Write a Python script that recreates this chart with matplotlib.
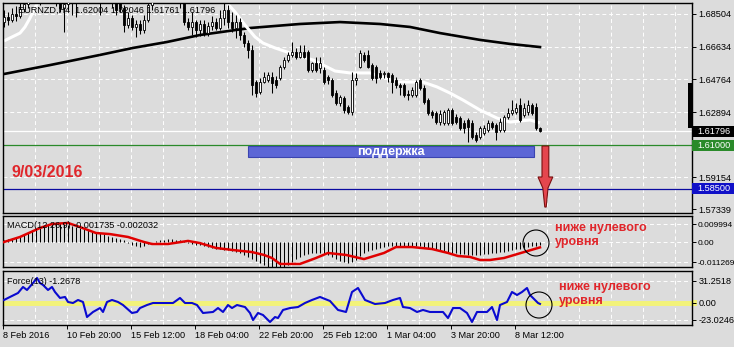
import matplotlib
matplotlib.use("Agg")
import matplotlib.pyplot as plt
from matplotlib.patches import Rectangle, Polygon, Ellipse
from matplotlib.transforms import blended_transform_factory
import numpy as np

plt.rcParams['font.family'] = ['Liberation Sans', 'DejaVu Sans']

W, H = 734, 347
BG = "#DCDCDC"

# ---------------- data ----------------
symbol = "EURNZD,H4"
last_ohlc = ["1.62004", "1.62046", "1.61761", "1.61796"]

opens = [1.6804, 1.6833, 1.6816, 1.6850, 1.6839, 1.6879, 1.6908, 1.6965, 1.6948, 1.6988,
         1.6959, 1.6999, 1.6976, 1.6948, 1.6936, 1.6885, 1.6908, 1.6953, 1.6919, 1.6965,
         1.7016, 1.7045, 1.7016, 1.7073, 1.7033, 1.6959, 1.6999, 1.6976, 1.6919, 1.6930,
         1.6885, 1.6787, 1.6827, 1.6776, 1.6793, 1.6759, 1.6816, 1.6902, 1.6976, 1.6999,
         1.7045, 1.7016, 1.7056, 1.7033, 1.6988, 1.6942, 1.6804, 1.6776, 1.6804, 1.6759,
         1.6793, 1.6741, 1.6781, 1.6804, 1.6770, 1.6827, 1.6873, 1.6804, 1.6770, 1.6804,
         1.6730, 1.6684, 1.6644, 1.6461, 1.6404, 1.6461, 1.6473, 1.6490, 1.6473, 1.6484,
         1.6547, 1.6587, 1.6616, 1.6633, 1.6604, 1.6633, 1.6633, 1.6530, 1.6570, 1.6541,
         1.6530, 1.6490, 1.6473, 1.6398, 1.6341, 1.6370, 1.6318, 1.6290, 1.6473, 1.6547,
         1.6616, 1.6616, 1.6558, 1.6547, 1.6513, 1.6507, 1.6513, 1.6501, 1.6473, 1.6444,
         1.6444, 1.6393, 1.6387, 1.6387, 1.6473, 1.6427, 1.6358, 1.6290, 1.6284, 1.6232,
         1.6227, 1.6227, 1.6301, 1.6261, 1.6255, 1.6227, 1.6244, 1.6227, 1.6158, 1.6146,
         1.6169, 1.6187, 1.6227, 1.6215, 1.6187, 1.6187, 1.6261, 1.6284, 1.6290, 1.6330,
         1.6272, 1.6290, 1.6330, 1.6318, 1.6200]
highs = [1.6873, 1.6862, 1.6885, 1.6896, 1.6919, 1.6959, 1.6999, 1.7016, 1.7045, 1.7033,
         1.7056, 1.7073, 1.7016, 1.6988, 1.6953, 1.6942, 1.6976, 1.6988, 1.6988, 1.7073,
         1.7102, 1.7102, 1.7113, 1.7131, 1.7073, 1.7045, 1.7056, 1.6999, 1.6953, 1.6976,
         1.6902, 1.6862, 1.6845, 1.6816, 1.6816, 1.6845, 1.6959, 1.7016, 1.7073, 1.7102,
         1.7113, 1.7131, 1.7102, 1.7073, 1.7033, 1.6976, 1.6827, 1.6862, 1.6816, 1.6816,
         1.6816, 1.6804, 1.6839, 1.6827, 1.6873, 1.6919, 1.6902, 1.6862, 1.6845, 1.6827,
         1.6747, 1.6702, 1.6673, 1.6473, 1.6484, 1.6518, 1.6518, 1.6518, 1.6496, 1.6558,
         1.6604, 1.6633, 1.6690, 1.6656, 1.6673, 1.6673, 1.6644, 1.6575, 1.6604, 1.6604,
         1.6547, 1.6501, 1.6484, 1.6416, 1.6387, 1.6381, 1.6330, 1.6518, 1.6513, 1.6644,
         1.6633, 1.6644, 1.6570, 1.6558, 1.6530, 1.6524, 1.6518, 1.6513, 1.6490, 1.6455,
         1.6455, 1.6416, 1.6433, 1.6473, 1.6484, 1.6444, 1.6370, 1.6301, 1.6295, 1.6301,
         1.6301, 1.6312, 1.6312, 1.6278, 1.6267, 1.6244, 1.6255, 1.6244, 1.6175, 1.6210,
         1.6215, 1.6244, 1.6238, 1.6227, 1.6255, 1.6272, 1.6312, 1.6358, 1.6341, 1.6370,
         1.6341, 1.6358, 1.6341, 1.6341, 1.6205]
lows = [1.6776, 1.6787, 1.6804, 1.6810, 1.6827, 1.6862, 1.6885, 1.6919, 1.6913, 1.6902,
        1.6930, 1.6942, 1.6919, 1.6896, 1.6862, 1.6747, 1.6873, 1.6845, 1.6833, 1.6942,
        1.6988, 1.6976, 1.6988, 1.6999, 1.6845, 1.6913, 1.6942, 1.6885, 1.6845, 1.6862,
        1.6747, 1.6770, 1.6759, 1.6719, 1.6736, 1.6741, 1.6804, 1.6873, 1.6942, 1.6959,
        1.6976, 1.6988, 1.6959, 1.6930, 1.6885, 1.6787, 1.6759, 1.6730, 1.6719, 1.6724,
        1.6724, 1.6724, 1.6759, 1.6759, 1.6759, 1.6787, 1.6770, 1.6747, 1.6713, 1.6702,
        1.6661, 1.6598, 1.6387, 1.6375, 1.6393, 1.6455, 1.6461, 1.6398, 1.6427, 1.6473,
        1.6536, 1.6575, 1.6604, 1.6593, 1.6598, 1.6598, 1.6518, 1.6518, 1.6518, 1.6513,
        1.6450, 1.6450, 1.6375, 1.6330, 1.6324, 1.6284, 1.6278, 1.6272, 1.6444, 1.6541,
        1.6575, 1.6541, 1.6473, 1.6455, 1.6479, 1.6484, 1.6461, 1.6398, 1.6427, 1.6387,
        1.6375, 1.6358, 1.6375, 1.6375, 1.6416, 1.6335, 1.6272, 1.6255, 1.6221, 1.6215,
        1.6215, 1.6215, 1.6215, 1.6221, 1.6187, 1.6169, 1.6118, 1.6135, 1.6118, 1.6135,
        1.6158, 1.6175, 1.6192, 1.6129, 1.6175, 1.6175, 1.6250, 1.6272, 1.6278, 1.6232,
        1.6261, 1.6272, 1.6272, 1.6187, 1.6176]
closes = [1.6833, 1.6816, 1.6850, 1.6839, 1.6879, 1.6908, 1.6965, 1.6948, 1.6988, 1.6959,
          1.6999, 1.6976, 1.6948, 1.6936, 1.6885, 1.6908, 1.6953, 1.6919, 1.6965, 1.7016,
          1.7045, 1.7016, 1.7073, 1.7033, 1.6959, 1.6999, 1.6976, 1.6919, 1.6873, 1.6885,
          1.6787, 1.6827, 1.6776, 1.6793, 1.6759, 1.6816, 1.6902, 1.6976, 1.6999, 1.7045,
          1.7016, 1.7056, 1.7033, 1.6988, 1.6942, 1.6804, 1.6776, 1.6804, 1.6759, 1.6793,
          1.6741, 1.6781, 1.6804, 1.6770, 1.6827, 1.6873, 1.6804, 1.6770, 1.6804, 1.6730,
          1.6684, 1.6644, 1.6444, 1.6398, 1.6461, 1.6490, 1.6501, 1.6455, 1.6444, 1.6547,
          1.6587, 1.6616, 1.6633, 1.6604, 1.6633, 1.6604, 1.6530, 1.6570, 1.6530, 1.6570,
          1.6461, 1.6473, 1.6387, 1.6341, 1.6375, 1.6301, 1.6290, 1.6473, 1.6484, 1.6627,
          1.6587, 1.6547, 1.6484, 1.6484, 1.6490, 1.6513, 1.6490, 1.6461, 1.6444, 1.6433,
          1.6387, 1.6387, 1.6416, 1.6461, 1.6427, 1.6347, 1.6284, 1.6272, 1.6232, 1.6278,
          1.6290, 1.6301, 1.6227, 1.6232, 1.6198, 1.6198, 1.6204, 1.6146, 1.6129, 1.6198,
          1.6198, 1.6227, 1.6204, 1.6175, 1.6232, 1.6261, 1.6284, 1.6301, 1.6312, 1.6244,
          1.6312, 1.6330, 1.6284, 1.6198, 1.6180]

white_ma_x = [0, 1.5, 4, 5.25, 6.5, 7.75, 9, 10.5, 15, 25, 35, 45, 52, 55.5, 57.75, 60.25,
              62.75, 64.75, 67.75, 71.5, 77.25, 80.25, 82.75, 86.5, 91.5, 95.25, 98.25,
              101.5, 104.75, 108.25, 111.5, 114.75, 119, 123.25, 126.5, 129, 131.5, 134]
white_ma = [1.6696, 1.6713, 1.6741, 1.6776, 1.6827, 1.6885, 1.6942, 1.6999, 1.7050, 1.7080,
            1.7050, 1.7020, 1.6960, 1.6919, 1.6862, 1.6787, 1.6719, 1.6684, 1.6656, 1.6627,
            1.6587, 1.6553, 1.6524, 1.6513, 1.6513, 1.6484, 1.6461, 1.6461, 1.6461, 1.6433,
            1.6398, 1.6358, 1.6301, 1.6255, 1.6232, 1.6238, 1.6244, 1.6227]

black_ma_x = [0, 11.5, 24, 32.25, 40.75, 49, 61.5, 74, 84, 94, 101.5, 109, 119, 126.5, 134]
black_ma = [1.6507, 1.6558, 1.6616, 1.6656, 1.6690, 1.6730, 1.6770, 1.6793, 1.6804, 1.6793,
            1.6776, 1.6741, 1.6702, 1.6679, 1.6661]

macd_hist = [0.0011, 0.0017, 0.0022, 0.0028, 0.0033, 0.0044, 0.0056, 0.0067, 0.0072, 0.0078,
             0.0089, 0.0095, 0.0100, 0.0106, 0.0106, 0.0100, 0.0095, 0.0089, 0.0083, 0.0078,
             0.0072, 0.0067, 0.0061, 0.0056, 0.0050, 0.0044, 0.0033, 0.0028, 0.0022, 0.0017,
             0.0011, -0.0006, -0.0017, -0.0022, -0.0028, -0.0022, -0.0011, 0.0000, 0.0006, 0.0011,
             0.0011, 0.0017, 0.0017, 0.0011, 0.0011, 0.0006, -0.0006, -0.0011, -0.0017, -0.0017,
             -0.0022, -0.0028, -0.0033, -0.0039, -0.0039, -0.0044, -0.0044, -0.0050, -0.0056, -0.0061,
             -0.0072, -0.0083, -0.0095, -0.0106, -0.0117, -0.0128, -0.0139, -0.0145, -0.0150, -0.0145,
             -0.0139, -0.0128, -0.0111, -0.0095, -0.0083, -0.0072, -0.0067, -0.0061, -0.0061, -0.0061,
             -0.0067, -0.0072, -0.0083, -0.0095, -0.0106, -0.0111, -0.0117, -0.0111, -0.0100, -0.0078,
             -0.0061, -0.0050, -0.0044, -0.0039, -0.0033, -0.0028, -0.0022, -0.0022, -0.0022, -0.0022,
             -0.0028, -0.0028, -0.0028, -0.0022, -0.0022, -0.0028, -0.0033, -0.0039, -0.0044, -0.0050,
             -0.0056, -0.0056, -0.0061, -0.0061, -0.0067, -0.0067, -0.0072, -0.0072, -0.0072, -0.0072,
             -0.0067, -0.0067, -0.0061, -0.0061, -0.0056, -0.0056, -0.0050, -0.0044, -0.0039, -0.0039,
             -0.0033, -0.0028, -0.0022, -0.0022, -0.0017]

signal_x = [0, 4, 9, 12, 16, 19, 23, 26.5, 31, 35, 37, 41, 46, 49, 53, 57, 62, 65, 67, 69,
            72, 74, 78, 81, 85.5, 90, 95, 98, 102, 107, 111, 113.5, 116.5, 119, 121.5, 125,
            130, 134]
signal = [0.0000, 0.0028, 0.0078, 0.0100, 0.0106, 0.0083, 0.0050, 0.0044, 0.0028, 0.0000,
          -0.0011, -0.0011, 0.0006, -0.0006, -0.0033, -0.0044, -0.0056, -0.0072, -0.0089, -0.0122,
          -0.0122, -0.0122, -0.0089, -0.0061, -0.0072, -0.0095, -0.0061, -0.0028, -0.0028, -0.0039,
          -0.0061, -0.0078, -0.0083, -0.0100, -0.0100, -0.0089, -0.0056, -0.0030]

force_x = [0, 1.5, 3.5, 4.75, 5.75, 7.25, 8.25, 9, 9.75, 11, 12, 12.75, 14, 15.25, 16, 17.25,
           18.5, 19.75, 20.75, 22.25, 24, 24.75, 25.75, 27, 28.5, 29.75, 32, 33.25, 34, 35.75,
           37.25, 39.75, 42.25, 44, 45.25, 47, 48.25, 49.75, 52.25, 53.5, 54.75, 56, 57, 58.25,
           60.25, 61.5, 62.25, 63.5, 64.75, 66.5, 67.75, 68.5, 69.75, 71.5, 73.5, 75.25, 77, 79,
           81.5, 83.5, 85.5, 87, 88.5, 90.25, 92.75, 95.25, 97.25, 99, 99.75, 101.5, 103.25,
           104.75, 106.5, 109.75, 111, 112.25, 114, 115.75, 117, 118.25, 120.75, 122, 123.25,
           124, 125.75, 127, 128.25, 129.5, 130.75, 131.5, 132.25, 133.5, 134]
force = [4.2, 8.4, 13.9, 22.3, 18.1, 27.8, 34.8, 27.8, 25.1, 18.1, 22.3, 15.3, 7.0, 8.4, 1.4,
         0.0, 4.2, 1.4, -19.5, -12.5, -7.0, -12.5, 1.4, 4.2, 1.4, -2.8, -13.9, -12.5, -7.0, -2.8,
         0.0, 0.0, 0.0, 7.0, 0.0, 0.0, -2.8, -13.9, -12.5, -7.0, -12.5, -2.8, -7.0, -2.8, -5.6,
         -13.9, -23.7, -13.9, -16.7, -26.4, -19.5, -20.9, -9.7, -7.0, -5.6, 0.0, 4.2, 8.4, 2.8,
         -9.7, -12.5, 15.3, 20.9, 4.2, -1.4, 0.0, 4.2, 7.0, -5.6, -7.0, -12.5, -9.7, -12.5,
         -12.5, -20.9, -7.0, -7.0, -13.9, -26.4, -12.5, -12.5, -5.6, -23.7, -2.8, 1.4, 15.3,
         11.1, 15.3, 20.9, 11.1, 7.0, 0.0, -1.27]

price_ticks = [1.68504, 1.66634, 1.64764, 1.62894, 1.59154, 1.57339]
price_grid = [1.68504, 1.66634, 1.64764, 1.62894, 1.61024, 1.59154]
macd_ticks = [0.009994, 0.0, -0.011269]
macd_tick_labels = ["0.009994", "0.00", "-0.011269"]
force_ticks = [31.2518, 0.0, -23.0246]
force_tick_labels = ["31.2518", "0.00", "-23.0246"]
date_labels = ["8 Feb 2016", "10 Feb 20:00", "15 Feb 12:00", "18 Feb 04:00",
               "22 Feb 20:00", "25 Feb 12:00", "1 Mar 04:00", "3 Mar 20:00", "8 Mar 12:00"]
bid_price = 1.61796
support_level = 1.61000
target_level = 1.58500
support_zone = (61.0, 132.5, 1.6032, 1.6095)   # x from, x to, price low, price high
bar_marker = (1.6198, 1.6455)                   # dark marker at right edge: price low, high
macd_text = "MACD(12,26,9) -0.001735 -0.002032"
force_text = "Force(13) -1.2678"
date_text = "9/03/2016"
zone_text = "поддержка"
note_text = "ниже нулевого\nуровня"

# ---------------- figure ----------------
fig = plt.figure(figsize=(W / 100, H / 100), dpi=100, facecolor=BG)


def px_axes(l, t, r, b):
    return fig.add_axes([l / W, 1 - b / H, (r - l) / W, (b - t) / H])


ax_main = px_axes(3, 3, 692, 213)
ax_macd = px_axes(3, 216, 692, 267)
ax_force = px_axes(3, 271, 692, 325)

XMIN, XMAX = -0.25, 172.0
DASH = (0, (4, 3))
for ax in (ax_main, ax_macd, ax_force):
    ax.set_facecolor(BG)
    ax.set_xlim(XMIN, XMAX)
    for s in ax.spines.values():
        s.set_color("black")
        s.set_linewidth(1.0)
    ax.yaxis.tick_right()
    ax.tick_params(axis='y', direction='out', length=3, width=0.7, pad=1.5,
                   labelsize=6.6, colors='black')
    ax.tick_params(axis='x', bottom=False, labelbottom=False)
    for k in range(1, 22):
        ax.axvline(XMIN + 8 * k, color='white', lw=0.7, ls=DASH, zorder=0.5)

# ---- main panel ----
ax_main.set_ylim(1.5712, 1.6913)
ax_main.set_yticks(price_ticks)
ax_main.set_yticklabels([f"{p:.5f}" for p in price_ticks])
for p in price_grid:
    ax_main.axhline(p, color='white', lw=0.7, ls=DASH, zorder=0.5)

ax_main.plot(black_ma_x, black_ma, color='black', lw=1.9, zorder=2)
ax_main.plot(white_ma_x, white_ma, color='white', lw=2.2, zorder=2, solid_capstyle='butt')

idx = np.arange(len(opens))
o = np.array(opens); c = np.array(closes)
hi = np.array(highs); lo = np.array(lows)
ax_main.vlines(idx, lo, hi, color='black', lw=0.75, zorder=3)
bottoms = np.minimum(o, c)
heights = np.maximum(np.abs(c - o), 0.00008)
fcols = ['white' if cc >= oo else 'black' for oo, cc in zip(o, c)]
ax_main.bar(idx, heights, bottom=bottoms, width=0.6, color=fcols,
            edgecolor='black', linewidth=0.6, zorder=4)

ax_main.axhline(bid_price, color='white', lw=0.9, zorder=1)
ax_main.axhline(support_level, color='#2A8A2A', lw=0.9, zorder=2)
ax_main.axhline(target_level, color='#0A0AA0', lw=0.9, zorder=2)

x0, x1, y0, y1 = support_zone
ax_main.add_patch(Rectangle((x0, y0), x1 - x0, y1 - y0, facecolor='#5C66D6',
                            edgecolor='#3B44B0', lw=0.8, zorder=5))
ax_main.text((x0 + x1) / 2, (y0 + y1) / 2, zone_text, color='white', fontsize=9,
             fontweight='bold', ha='center', va='center', zorder=6)

arrow_pts = [(134.5, 1.6095), (136.2, 1.6095), (136.2, 1.5918), (137.2, 1.5918),
             (136.0, 1.5855), (135.55, 1.5746), (135.2, 1.5746), (134.7, 1.5855),
             (133.5, 1.5918), (134.5, 1.5918)]
ax_main.add_patch(Polygon(arrow_pts, closed=True, facecolor='#E5464E',
                          edgecolor='#7A1010', lw=0.8, zorder=6))

ax_main.text(2.0, 1.5941, date_text, color='#E0262B', fontsize=11.5,
             fontweight='bold', ha='left', va='center', zorder=6)
ax_main.text(15 / 689, 0.966, symbol + "  " + " ".join(last_ohlc), transform=ax_main.transAxes,
             fontsize=6.6, ha='left', va='center', color='black', zorder=7)

# dark marker bar at the right edge of the price panel
ax_main.add_patch(Rectangle((171.0, bar_marker[0]), 1.2, bar_marker[1] - bar_marker[0],
                            facecolor='black', edgecolor='none', clip_on=False, zorder=7))

tr = blended_transform_factory(ax_main.transAxes, ax_main.transData)
bw = 42 / 689
bh = 11 * 0.000572
for price, fc in ((bid_price, 'black'), (support_level, '#2A8A2A'), (target_level, '#1010C8')):
    ax_main.add_patch(Rectangle((1.0, price - bh / 2), bw, bh, transform=tr, facecolor=fc,
                                edgecolor='none', clip_on=False, zorder=8))
    ax_main.text(1.0 + 5 / 689, price, f"{price:.5f}", transform=tr, color='white',
                 fontsize=6.6, ha='left', va='center', zorder=9, clip_on=False)

# ---- MACD panel ----
ax_macd.set_ylim(-0.0139, 0.01446)
ax_macd.set_yticks(macd_ticks)
ax_macd.set_yticklabels(macd_tick_labels)
ax_macd.tick_params(axis='y', labelsize=6.0, pad=1.2)
for v in macd_ticks:
    ax_macd.axhline(v, color='white', lw=0.7, ls=DASH, zorder=0.5)
mi = np.arange(len(macd_hist))
ax_macd.vlines(mi, 0, macd_hist, color='black', lw=0.75, zorder=2)
ax_macd.plot(signal_x, signal, color='#E00000', lw=1.8, zorder=3)
ax_macd.text(4 / 689, 0.82, macd_text, transform=ax_macd.transAxes, fontsize=6.6,
             ha='left', va='center', zorder=5)
ax_macd.add_patch(Ellipse((133.0, -0.00056), 6.5, 0.01446, fill=False,
                          edgecolor='black', lw=0.8, zorder=4))
ax_macd.text(137.75, 0.0040, note_text, color='#E0262B', fontsize=9, fontweight='bold',
             ha='left', va='center', linespacing=1.25, zorder=5)

# ---- Force panel ----
ax_force.set_ylim(-30.6, 44.5)
ax_force.set_yticks(force_ticks)
ax_force.set_yticklabels(force_tick_labels)
for v in force_ticks:
    ax_force.axhline(v, color='white', lw=0.7, ls=DASH, zorder=0.5)
ax_force.axhline(0.0, color='#F2F27A', lw=3.6, zorder=1)
ax_force.plot(force_x, force, color='#0A0AD0', lw=1.5, zorder=3)
ax_force.text(4 / 689, 0.80, force_text, transform=ax_force.transAxes, fontsize=6.6,
              ha='left', va='center', zorder=5)
ax_force.add_patch(Ellipse((133.75, -2.8), 6.5, 36.2, fill=False,
                           edgecolor='black', lw=0.8, zorder=4))
ax_force.text(138.75, 13.0, note_text, color='#E0262B', fontsize=9, fontweight='bold',
              ha='left', va='center', linespacing=1.25, zorder=5)
trf = blended_transform_factory(ax_force.transAxes, ax_force.transData)
ax_force.add_patch(Rectangle((1.0, -4.0), 5 / 689, 8.0, transform=trf, facecolor='#F2F27A',
                             edgecolor='none', clip_on=False, zorder=0.5))

ax_force.tick_params(axis='x', bottom=True, labelbottom=True, direction='out', length=3,
                     width=0.7, pad=1.5, labelsize=6.6)
ax_force.set_xticks([XMIN + 16 * k for k in range(len(date_labels))])
ax_force.set_xticklabels(date_labels, ha='left')

fig.savefig("out.png", dpi=100, facecolor=BG)
